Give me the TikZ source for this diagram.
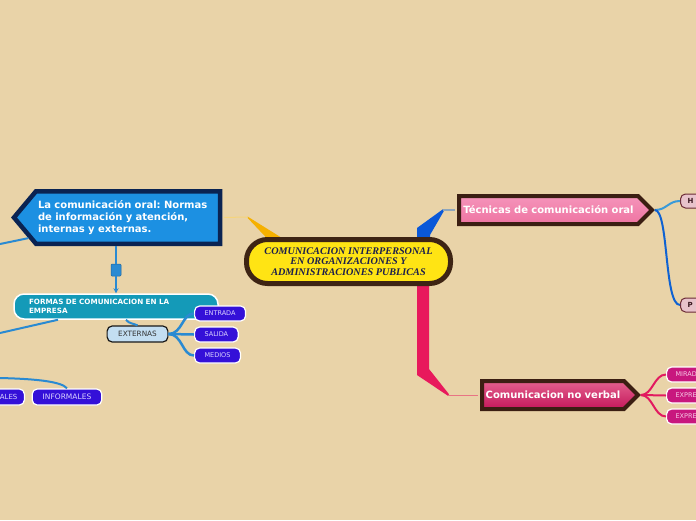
\documentclass[tikz,border=0pt]{standalone}
\usepackage{fontspec}
\setmainfont{DejaVu Sans}
\newfontfamily\titlefont{Liberation Serif}
\frenchspacing
\usetikzlibrary{calc, shapes.symbols}
\definecolor{bgColor}{HTML}{E9D3A8}
\definecolor{centralFill}{HTML}{FFE414}
\definecolor{centralBorder}{HTML}{3E2414}
\definecolor{centralText}{HTML}{1C1F4C}
\definecolor{oralFill}{HTML}{1C90E2}
\definecolor{oralBorder}{HTML}{0A2352}
\definecolor{oralWedge}{HTML}{F5B000}
\definecolor{oralLine}{HTML}{F5D47C}
\definecolor{linkBlue}{HTML}{2A8AD2}
\definecolor{formasFill}{HTML}{149AB8}
\definecolor{externasFill}{HTML}{C3DEF2}
\definecolor{leafFill}{HTML}{3410D8}
\definecolor{leafText}{HTML}{DCD4FF}
\definecolor{tecWedge}{HTML}{0A58D8}
\definecolor{tecLine}{HTML}{8EA6BC}
\definecolor{tecTop}{HTML}{F594BA}
\definecolor{tecBottom}{HTML}{EE74A2}
\definecolor{brownBorder}{HTML}{3B1E12}
\definecolor{tecLinkA}{HTML}{3A9AD8}
\definecolor{tecLinkB}{HTML}{0F62D2}
\definecolor{tecLeafFill}{HTML}{E8C3CB}
\definecolor{tecLeafBorder}{HTML}{6B2A35}
\definecolor{tecLeafText}{HTML}{3A1820}
\definecolor{cnvWedge}{HTML}{E8195C}
\definecolor{cnvLine}{HTML}{E87484}
\definecolor{cnvTop}{HTML}{E2608E}
\definecolor{cnvBottom}{HTML}{C5175A}
\definecolor{cnvLink}{HTML}{E21A60}
\definecolor{cnvLeafFill}{HTML}{C8177E}
\definecolor{cnvLeafText}{HTML}{F6CBE6}

\begin{document}
\begin{tikzpicture}[x=1pt, y=-1pt, >=stealth,
    mainTopic/.style={shape=signal, line width=4pt, draw=brownBorder, text=white,
        font=\bfseries\fontsize{10}{12}\selectfont, inner xsep=0pt, inner ysep=0pt,
        minimum height=28pt, signal to=east, signal pointer angle=90, align=center},
    leaf/.style={rounded corners=5pt, fill=leafFill, draw=white, line width=1.2pt,
        text=leafText, font=\fontsize{6.5}{7}\selectfont, minimum height=15pt,
        inner xsep=10pt, inner ysep=0pt},
    tecLeaf/.style={rounded corners=5pt, fill=tecLeafFill, draw=tecLeafBorder, line width=1pt,
        text=tecLeafText, font=\bfseries\fontsize{7}{7}\selectfont, minimum height=14pt,
        inner xsep=7pt, inner ysep=0pt, text width=30pt, align=left, anchor=west},
    cnvLeaf/.style={rounded corners=5pt, fill=cnvLeafFill, draw=white, line width=1.2pt,
        text=cnvLeafText, font=\fontsize{6.5}{7}\selectfont, minimum height=15pt,
        inner xsep=9pt, inner ysep=0pt, text width=40pt, align=left, anchor=west},
    blueLink/.style={linkBlue, line width=2pt}]
    \useasboundingbox (0,0) rectangle (696,520);
    \clip (0,0) rectangle (696,520);
    \fill[bgColor] (0,0) rectangle (696,520);

    \coordinate (orJoint) at (248,217);
    \coordinate (tecJoint) at (443,210);
    \coordinate (cnvJoint) at (448,395);
    \coordinate (edgeA) at (0,244);
    \coordinate (edgeB) at (0,333);
    \coordinate (edgeC) at (0,378);

    \fill[oralWedge] (247.5,216.5) -- (290,243) -- (278,250) -- (247.5,217.8) -- cycle;
    \fill[tecWedge] (417,255) -- (417,228) -- (443,209.2) -- (444,210.8) -- (430,235) -- (430,255) -- cycle;
    \fill[cnvWedge] (417,270) -- (417,375) -- (448,395.8) -- (449,394.2) -- (429,369) -- (429,270) -- cycle;

    \node[draw=centralBorder, fill=centralFill, line width=5pt, rounded corners=21pt,
        minimum width=204pt, minimum height=44pt, inner sep=0pt, align=center, text=centralText,
        font=\titlefont\bfseries\itshape\fontsize{10.2}{10.2}\selectfont] (c) at (348.5,261.5)
        {COMUNICACION INTERPERSONAL\\EN ORGANIZACIONES Y\\ADMINISTRACIONES PUBLICAS};

    \node[shape=signal, signal to=west, signal pointer angle=100, line width=4.5pt,
        draw=oralBorder, fill=oralFill, text=white, text width=180pt, align=left,
        inner xsep=2pt, inner ysep=0pt, minimum height=52.5pt,
        font=\bfseries\fontsize{10}{12}\selectfont] (oral) at (128,217.5)
        {La comunicación oral: Normas\\de información y atención,\\internas y externas.};

    \node[mainTopic, top color=tecTop, bottom color=tecBottom, text width=179pt] (tec) at (548.5,210)
        {Técnicas de comunicación oral};
    \node[mainTopic, top color=cnvTop, bottom color=cnvBottom, text width=142pt] (cnv) at (553,395)
        {Comunicacion no verbal};

    \node[rounded corners=10pt, fill=formasFill, draw=white, line width=1.5pt, text=white,
        minimum width=204pt, minimum height=25pt, inner xsep=15pt, inner ysep=0pt,
        text width=174pt, align=left, font=\bfseries\fontsize{7.2}{9}\selectfont] (formas) at (116,306.5)
        {FORMAS DE COMUNICACION EN LA\\EMPRESA};
    \node[rounded corners=1pt, fill=linkBlue, draw=linkBlue!75!black, line width=0.5pt,
        minimum width=10pt, minimum height=12pt, inner sep=0pt] (handle) at (116,270) {};

    \node[leaf, fill=externasFill, draw=black!90, text=black!80, inner xsep=11pt,
        minimum height=16pt, font=\fontsize{7.3}{8}\selectfont] (externas) at (137.5,334) {EXTERNAS};
    \node[leaf, anchor=west] (entrada) at (194,313.5) {ENTRADA};
    \node[leaf, anchor=west] (salida) at (194,334.5) {SALIDA};
    \node[leaf, anchor=west] (medios) at (194,355.5) {MEDIOS};
    \node[leaf, minimum height=16pt, inner xsep=10.5pt, font=\fontsize{7.5}{8}\selectfont]
        (informales) at (67,397) {INFORMALES};
    \node[leaf, minimum height=16pt, anchor=east, text width=50pt, align=right, inner xsep=7pt,
        font=\fontsize{7}{8}\selectfont] (formales) at (25,397) {ALES};

    \node[tecLeaf] (tecLeafA) at (680,201) {H};
    \node[tecLeaf] (tecLeafB) at (680,305) {P};
    \node[cnvLeaf] (cnvLeafA) at (666,374.5) {MIRAD};
    \node[cnvLeaf] (cnvLeafB) at (666,395.5) {EXPRE};
    \node[cnvLeaf] (cnvLeafC) at (666,416.5) {EXPRE};

    \draw[oralLine, line width=1pt, shorten >=2pt] (orJoint) -- (oral.east);
    \draw[tecLine, line width=1.5pt, shorten >=2pt] (tecJoint) -- (tec.west);
    \draw[cnvLine, line width=1pt, shorten >=2pt] (cnvJoint) -- (cnv.west);

    \draw[linkBlue, line width=1.2pt] (handle |- oral.south) -- (handle.north);
    \draw[linkBlue, line width=1.2pt, ->] (handle.south) -- (formas.north);
    \draw[blueLink] (oral) -- (edgeA);
    \draw[blueLink] (formas) -- (edgeB);
    \draw[blueLink] (edgeC) .. controls (40,379) and (62,382) .. (informales.north);
    \draw[blueLink] ($(formas.south)+(10,0)$) .. controls +(3,4) and +(-4,-2) .. (externas.north);
    \draw[blueLink, line width=2.5pt] (externas.east) .. controls +(14,0) and +(-12,0) .. (entrada.west);
    \draw[blueLink, line width=2.5pt] (externas.east) -- (salida.west);
    \draw[blueLink, line width=2.5pt] (externas.east) .. controls +(14,0) and +(-12,0) .. (medios.west);

    \draw[tecLinkA, line width=2pt] (tec.east) .. controls +(12,0) and +(-12,0) .. (tecLeafA.west);
    \draw[tecLinkB, line width=2pt] (tec.east) .. controls +(14,0) and +(-16,0) .. (tecLeafB.west);

    \draw[cnvLink, line width=2pt] (cnv.east) .. controls +(12,0) and +(-12,0) .. (cnvLeafA.west);
    \draw[cnvLink, line width=2pt] (cnv.east) -- (cnvLeafB.west);
    \draw[cnvLink, line width=2pt] (cnv.east) .. controls +(12,0) and +(-12,0) .. (cnvLeafC.west);
\end{tikzpicture}
\end{document}
